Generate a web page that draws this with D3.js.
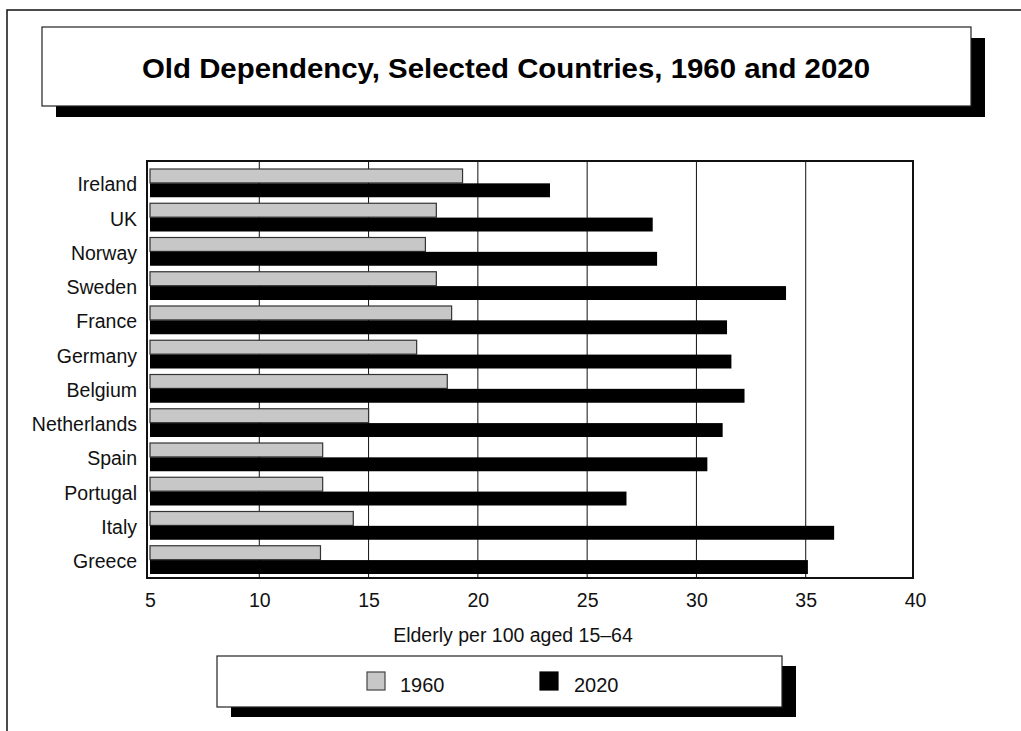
<!DOCTYPE html>
<html>
<head>
<meta charset="utf-8">
<script src="https://cdn.jsdelivr.net/npm/d3@7"></script>
<style>
  html, body { margin: 0; padding: 0; background: #fff; }
  svg { display: block; font-family: "Liberation Sans", Arial, Helvetica, sans-serif; }
</style>
</head>
<body>
<svg id="chart" width="1021" height="731"></svg>
<script>
// Old-age dependency ratio (elderly per 100 aged 15–64)
const countries = ["Ireland", "UK", "Norway", "Sweden", "France", "Germany",
                   "Belgium", "Netherlands", "Spain", "Portugal", "Italy", "Greece"];
const values1960 = [19.3, 18.1, 17.6, 18.1, 18.8, 17.2, 18.6, 15.0, 12.9, 12.9, 14.3, 12.8];
const values2020 = [23.3, 28.0, 28.2, 34.1, 31.4, 31.6, 32.2, 31.2, 30.5, 26.8, 36.3, 35.1];
const xTicks = [5, 10, 15, 20, 25, 30, 35, 40];
const seriesNames = ["1960", "2020"];
const titleText = "Old Dependency, Selected Countries, 1960 and 2020";
const axisTitle = "Elderly per 100 aged 15\u201364";

const svg = d3.select("#chart");
const grayFill = "#c7c7c7";
const labelSize = 19.5;

// page border
svg.append("path")
  .attr("d", "M7,731 L7,10 L1021,10")
  .attr("fill", "none").attr("stroke", "#111").attr("stroke-width", 1.5);

// boxed panel with a drop shadow
function shadowBox(x, y, w, h, dx, dy) {
  svg.append("rect").attr("x", x + dx).attr("y", y + dy).attr("width", w).attr("height", h)
    .attr("fill", "#000");
  svg.append("rect").attr("x", x).attr("y", y).attr("width", w).attr("height", h)
    .attr("fill", "#fff").attr("stroke", "#222").attr("stroke-width", 1.2);
}

// title
shadowBox(42, 27, 929, 79, 14, 11);
svg.append("text")
  .attr("x", 506).attr("y", 78)
  .attr("text-anchor", "middle")
  .attr("font-size", 28).attr("font-weight", "bold")
  .attr("textLength", 728).attr("lengthAdjust", "spacingAndGlyphs")
  .text(titleText);

// plot frame and scales
const frame = { left: 147, top: 161, right: 913, bottom: 578 };
const x = d3.scaleLinear().domain([5, 40]).range([150, 915]);
const y = d3.scaleBand().domain(countries).range([166, 577])
  .paddingInner(0.15).paddingOuter(0.075);
const sub = d3.scaleBand().domain(seriesNames).range([0, y.bandwidth()]).padding(0.03);

svg.append("rect")
  .attr("x", frame.left).attr("y", frame.top)
  .attr("width", frame.right - frame.left).attr("height", frame.bottom - frame.top)
  .attr("fill", "#fff");

// vertical gridlines
svg.append("g").selectAll("line")
  .data(xTicks.filter(t => t > 5 && t < 40))
  .join("line")
  .attr("x1", d => x(d)).attr("x2", d => x(d))
  .attr("y1", frame.top).attr("y2", frame.bottom)
  .attr("stroke", "#111").attr("stroke-width", 1);

// bars
const rows = countries.map((c, i) => ({ country: c, v1960: values1960[i], v2020: values2020[i] }));
const g = svg.append("g");
g.selectAll("rect.b1960").data(rows).join("rect")
  .attr("class", "b1960")
  .attr("x", x(5)).attr("y", d => y(d.country) + sub("1960"))
  .attr("width", d => x(d.v1960) - x(5)).attr("height", sub.bandwidth())
  .attr("fill", grayFill).attr("stroke", "#333").attr("stroke-width", 1.2);
g.selectAll("rect.b2020").data(rows).join("rect")
  .attr("class", "b2020")
  .attr("x", x(5)).attr("y", d => y(d.country) + sub("2020"))
  .attr("width", d => x(d.v2020) - x(5)).attr("height", sub.bandwidth())
  .attr("fill", "#000");

// frame on top
svg.append("rect")
  .attr("x", frame.left).attr("y", frame.top)
  .attr("width", frame.right - frame.left).attr("height", frame.bottom - frame.top)
  .attr("fill", "none").attr("stroke", "#111").attr("stroke-width", 2);

// category labels
const yAxis = d3.axisLeft(y).tickSize(0).tickPadding(0);
svg.append("g")
  .attr("transform", "translate(137,2)")
  .call(yAxis)
  .call(a => a.select(".domain").remove())
  .call(a => a.selectAll("text")
    .attr("font-size", labelSize).attr("fill", "#111")
    .attr("font-family", "'Liberation Sans', Arial, sans-serif"));

// x tick labels
const xAxis = d3.axisBottom(x).tickValues(xTicks).tickSize(0).tickPadding(0);
svg.append("g")
  .attr("transform", "translate(0,593)")
  .call(xAxis)
  .call(a => a.select(".domain").remove())
  .call(a => a.selectAll("text")
    .attr("font-size", labelSize).attr("fill", "#111").attr("dy", "0.71em")
    .attr("font-family", "'Liberation Sans', Arial, sans-serif"));

// axis title
svg.append("text")
  .attr("x", 513).attr("y", 642)
  .attr("text-anchor", "middle")
  .attr("font-size", 19.5).attr("fill", "#111")
  .text(axisTitle);

// legend
shadowBox(217, 656, 565, 51, 14, 10);
const legendItems = [
  { name: seriesNames[0], fill: grayFill, stroke: "#444", sx: 367, tx: 400 },
  { name: seriesNames[1], fill: "#000", stroke: "#000", sx: 540, tx: 574 }
];
const lg = svg.append("g").selectAll("g").data(legendItems).join("g");
lg.append("rect")
  .attr("x", d => d.sx).attr("y", 672).attr("width", 18).attr("height", 18)
  .attr("fill", d => d.fill).attr("stroke", d => d.stroke).attr("stroke-width", 1.2);
lg.append("text")
  .attr("x", d => d.tx).attr("y", 692)
  .attr("font-size", 20).attr("fill", "#111")
  .text(d => d.name);
</script>
</body>
</html>
